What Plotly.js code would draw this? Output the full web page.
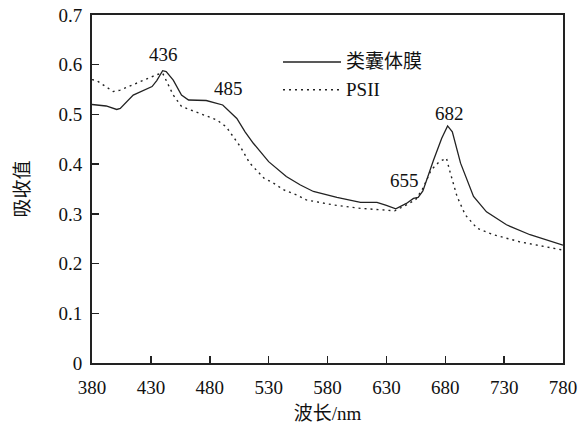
<!DOCTYPE html>
<html><head><meta charset="utf-8">
<script src="https://cdn.plot.ly/plotly-3.0.1.min.js"></script>
<style>html,body{margin:0;padding:0;background:#fff}#c{width:584px;height:426px}</style>
</head><body><div id="c"></div>
<script>
const FONT = 'Liberation Serif';
const CJK = 'Liberation Serif, Noto Sans CJK SC';

const thylakoidName = '类囊体膜';
const thylakoidX = [380,392,401,404,415,431,435,440,443,449,456,462,477,491,503,510,517,530,545,557,568,588,608,622,630,638,647,653,657,661,670,677,682,686,693,704,715,732,752,772,780];
const thylakoidY = [0.520,0.517,0.510,0.512,0.539,0.556,0.568,0.588,0.586,0.569,0.539,0.529,0.528,0.519,0.492,0.465,0.442,0.405,0.375,0.358,0.345,0.333,0.323,0.323,0.317,0.310,0.321,0.331,0.333,0.346,0.408,0.452,0.477,0.465,0.402,0.335,0.304,0.278,0.258,0.244,0.237];

const psiiName = 'PSII';
const psiiX = [380,384,398,404,421,435,440,449,456,472,486,494,506,514,520,526,534,543,554,562,585,608,627,637,647,655,661,668,675,681,684,690,697,707,721,743,780];
const psiiY = [0.570,0.568,0.546,0.549,0.566,0.580,0.583,0.539,0.516,0.502,0.489,0.475,0.435,0.402,0.388,0.372,0.362,0.348,0.338,0.328,0.318,0.311,0.308,0.306,0.318,0.329,0.351,0.388,0.405,0.412,0.385,0.335,0.298,0.271,0.258,0.244,0.227];

const peakLabels = ['436','485','655','682'];
const peakLabelX = [440.3,496.3,645.8,683.2];
const peakLabelY = [0.620,0.553,0.368,0.502];

const xTicks = [380,430,480,530,580,630,680,730,780];
const yTicks = [0,0.1,0.2,0.3,0.4,0.5,0.6,0.7];
const yTickText = ['0','0.1','0.2','0.3','0.4','0.5','0.6','0.7'];

const lineColor = '#222';

const traces = [
  {x: thylakoidX, y: thylakoidY, name: thylakoidName, mode: 'lines', line: {color: lineColor, width: 1.3}},
  {x: psiiX, y: psiiY, name: psiiName, mode: 'lines', line: {color: lineColor, width: 1.4, dash: '2px,4px'}}
];

const annotations = peakLabels.map((t, i) => ({
  x: peakLabelX[i], y: peakLabelY[i], xref: 'x', yref: 'y', text: t, showarrow: false,
  font: {family: FONT, size: 19, color: '#111'}, xanchor: 'center', yanchor: 'middle'
}));
annotations.push({x: 0.535, y: 0.865, xref: 'paper', yref: 'paper', text: thylakoidName, showarrow: false,
  font: {family: CJK, size: 19, color: '#111'}, xanchor: 'left', yanchor: 'middle'});
annotations.push({x: 0.535, y: 0.785, xref: 'paper', yref: 'paper', text: psiiName, showarrow: false,
  font: {family: FONT, size: 19, color: '#111'}, xanchor: 'left', yanchor: 'middle'});

const shapes = [
  {type: 'line', xref: 'paper', yref: 'paper', x0: 0.4055, x1: 0.5287, y0: 0.865, y1: 0.865, line: {color: lineColor, width: 1.3}},
  {type: 'line', xref: 'paper', yref: 'paper', x0: 0.4055, x1: 0.5287, y0: 0.785, y1: 0.785, line: {color: lineColor, width: 1.4, dash: '2px,4px'}}
];

const layout = {
  width: 584, height: 426,
  margin: {l: 92, r: 21, t: 15, b: 63},
  paper_bgcolor: '#fff', plot_bgcolor: '#fff',
  showlegend: false,
  font: {family: FONT, size: 19, color: '#111'},
  xaxis: {
    range: [380, 780], tickmode: 'array', tickvals: xTicks, ticktext: xTicks.map(String),
    ticks: 'inside', ticklen: 7, tickwidth: 1.5, tickcolor: '#222', ticklabelstandoff: 6,
    showline: true, linecolor: '#222', linewidth: 2, mirror: true,
    showgrid: false, zeroline: false,
    tickfont: {family: FONT, size: 19, color: '#111'},
    title: {text: '波长/nm', font: {family: CJK, size: 19, color: '#111'}, standoff: 10}
  },
  yaxis: {
    range: [0, 0.7], tickmode: 'array', tickvals: yTicks, ticktext: yTickText,
    ticks: 'inside', ticklen: 7, tickwidth: 1.5, tickcolor: '#222', ticklabelstandoff: 4,
    showline: true, linecolor: '#222', linewidth: 2, mirror: true,
    showgrid: false, zeroline: false,
    tickfont: {family: FONT, size: 19, color: '#111'},
    title: {text: '吸收值', font: {family: CJK, size: 19, color: '#111'}, standoff: 24}
  },
  annotations: annotations,
  shapes: shapes
};

Plotly.newPlot('c', traces, layout, {displayModeBar: false, staticPlot: true});
</script>
</body></html>
